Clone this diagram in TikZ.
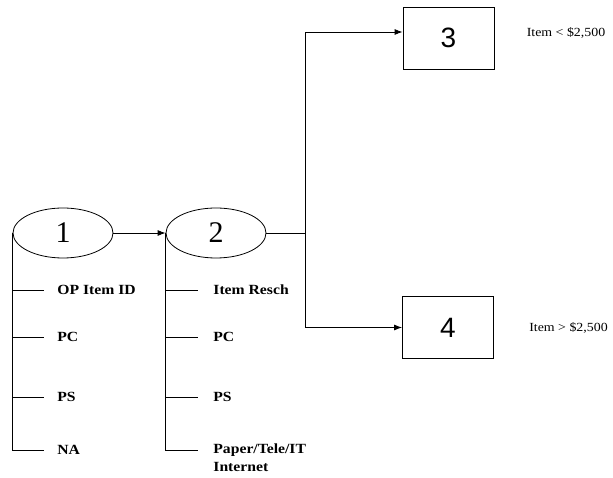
\documentclass[tikz,border=0pt]{standalone}
\usepackage{fontspec}
\setmainfont{Liberation Serif}
\newfontfamily\digitsans{Liberation Sans}
\newfontfamily\widefont{Liberation Serif}[FakeStretch=1.12]
\usepackage{tikz}
\usetikzlibrary{positioning,arrows.meta,shapes.geometric}

\tikzset{
  stage/.style={draw, ellipse, minimum width=100pt, minimum height=50pt, inner sep=0pt, font=\fontsize{30}{30}\selectfont},
  bin/.style={draw, rectangle, minimum width=91pt, minimum height=62pt, inner sep=0pt, font=\digitsans\fontsize{28}{28}\selectfont},
  field/.style={anchor=west, inner sep=0pt, font=\widefont\bfseries\fontsize{14}{15}\selectfont},
  note/.style={anchor=west, inner sep=0pt, font=\widefont\fontsize{12.4}{14}\selectfont},
  flow/.style={-{Latex[length=8pt,width=6pt]}},
}

\begin{document}
\begin{tikzpicture}[x=1pt, y=-1pt, line width=0.8pt]
  \useasboundingbox (0,0) rectangle (613,478);
  \node[stage] (s1) at (63,233) {1};
  \node[stage] (s2) at (216,233) {2};
  \node[bin] (b3) at (448.5,38) {3};
  \node[bin] (b4) at (448,327.5) {4};
  \coordinate (fork) at (305,233);
  % fields under 1
  \node[field] (f1a) at (57,290) {OP Item ID};
  \node[field] (f1b) at (57,337) {PC};
  \node[field] (f1c) at (57,397) {PS};
  \node[field] (f1d) at (57,450) {NA};
  % fields under 2
  \node[field] (f2a) at (213,290) {Item Resch};
  \node[field] (f2b) at (213,337) {PC};
  \node[field] (f2c) at (213,397) {PS};
  \node[field] (f2d) at (213,450) {Paper/Tele/IT};
  \node[field] (f2e) at (213,467) {Internet};
  % notes
  \node[note, right=32pt of b3, yshift=5pt] (n3) {Item < \$2,500};
  \node[note, right=35pt of b4] (n4) {Item > \$2,500};
  % connectors
  \draw[flow] (s1) -- (s2);
  \draw (s2) -- (fork);
  \draw[flow] (fork) |- ([yshift=6pt]b3.west);
  \draw[flow] (fork) |- (b4.west);
  \draw (s1.west) -- (s1.west |- f1d) -- ++(31,0);
  \draw (s1.west |- f1a) -- ++(31,0);
  \draw (s1.west |- f1b) -- ++(31,0);
  \draw (s1.west |- f1c) -- ++(31,0);
  \draw (s2.west) -- (s2.west |- f2d) -- ++(32,0);
  \draw (s2.west |- f2a) -- ++(32,0);
  \draw (s2.west |- f2b) -- ++(32,0);
  \draw (s2.west |- f2c) -- ++(32,0);
\end{tikzpicture}
\end{document}
